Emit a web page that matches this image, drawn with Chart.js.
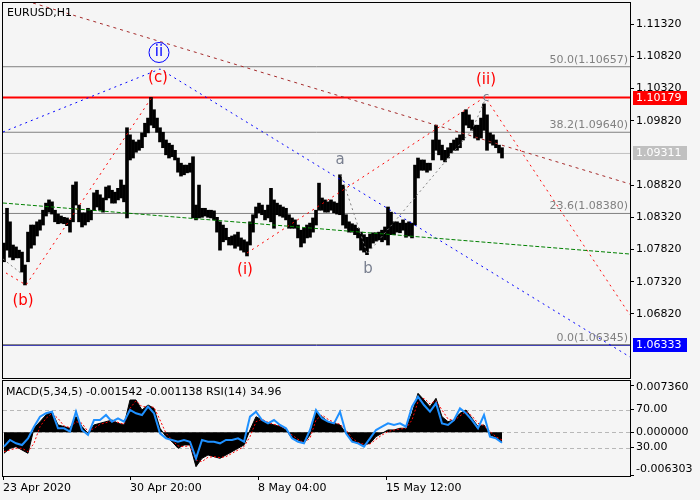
<!DOCTYPE html>
<html><head><meta charset="utf-8">
<script src="https://cdn.jsdelivr.net/npm/chart.js@4.4.0/dist/chart.umd.min.js"></script>
<style>
html,body{margin:0;padding:0;background:#f5f5f5;}
#wrap{position:relative;width:700px;height:500px;overflow:hidden;background:#f5f5f5;}
#main{position:absolute;left:0;top:0;}
#sub{position:absolute;left:0;top:379px;}
</style></head><body>
<div id="wrap"><canvas id="main" width="700" height="381"></canvas><canvas id="sub" width="700" height="121"></canvas></div>
<script>
// ---------- DATA ----------
const symbolName = 'EURUSD,H1';
// hourly time axis (1 unit = 1 H1 bar); price bars sampled every 3 bars
const BAR_FIRST = 1, BAR_STEP = 3;
const priceHigh = [
1.0792,1.0846,1.0825,1.0789,1.0786,1.0781,1.0778,1.0758,1.0809,1.0820,
1.0820,1.0825,1.0828,1.0843,1.0854,1.0859,1.0856,1.0843,1.0837,1.0834,
1.0832,1.0831,1.0828,1.0882,1.0887,1.0851,1.0839,1.0839,1.0846,1.0843,
1.0870,1.0874,1.0867,1.0862,1.0879,1.0881,1.0874,1.0871,1.0877,1.0890,
1.0882,1.0971,1.0960,1.0952,1.0949,1.0952,1.0963,1.0978,1.0986,1.1018,
1.0999,1.0986,1.0971,1.0964,1.0952,1.0947,1.0944,1.0936,1.0924,1.0916,
1.0913,1.0913,1.0916,1.0926,1.0851,1.0882,1.0846,1.0846,1.0843,1.0843,
1.0842,1.0832,1.0825,1.0820,1.0815,1.0801,1.0803,1.0805,1.0809,1.0800,
1.0797,1.0794,1.0825,1.0836,1.0848,1.0854,1.0851,1.0843,1.0851,1.0877,
1.0859,1.0854,1.0851,1.0848,1.0846,1.0836,1.0831,1.0828,1.0820,1.0812,
1.0815,1.0820,1.0823,1.0831,1.0843,1.0885,1.0862,1.0859,1.0856,1.0859,
1.0856,1.0854,1.0898,1.0882,1.0836,1.0825,1.0822,1.0820,1.0815,1.0809,
1.0805,1.0801,1.0806,1.0808,1.0808,1.0809,1.0812,1.0817,1.0848,1.0840,
1.0825,1.0825,1.0823,1.0828,1.0823,1.0825,1.0823,1.0913,1.0924,1.0921,
1.0921,1.0916,1.0916,1.0952,1.0975,1.0952,1.0944,1.0936,1.0940,1.0947,
1.0952,1.0955,1.0960,1.0995,1.0999,1.0991,1.0983,1.0975,1.0975,1.0986,
1.1008,1.0991,1.0963,1.0960,1.0952,1.0944,1.0940];
const priceLow = [
1.0763,1.0781,1.0770,1.0766,1.0769,1.0769,1.0747,1.0727,1.0763,1.0784,
1.0789,1.0803,1.0812,1.0820,1.0834,1.0840,1.0837,1.0825,1.0822,1.0823,
1.0822,1.0819,1.0809,1.0825,1.0851,1.0825,1.0817,1.0820,1.0825,1.0828,
1.0843,1.0848,1.0843,1.0840,1.0859,1.0862,1.0854,1.0854,1.0859,1.0862,
1.0856,1.0831,1.0921,1.0924,1.0933,1.0936,1.0940,1.0957,1.0963,1.0975,
1.0971,1.0964,1.0949,1.0940,1.0929,1.0924,1.0926,1.0921,1.0902,1.0896,
1.0898,1.0901,1.0902,1.0831,1.0828,1.0831,1.0832,1.0834,1.0832,1.0831,
1.0828,1.0809,1.0781,1.0794,1.0797,1.0789,1.0789,1.0784,1.0787,1.0781,
1.0778,1.0772,1.0789,1.0809,1.0831,1.0839,1.0836,1.0828,1.0831,1.0825,
1.0815,1.0836,1.0834,1.0832,1.0828,1.0815,1.0815,1.0815,1.0800,1.0786,
1.0792,1.0800,1.0801,1.0809,1.0820,1.0843,1.0843,1.0840,1.0840,1.0843,
1.0839,1.0837,1.0836,1.0820,1.0815,1.0809,1.0809,1.0805,1.0800,1.0781,
1.0778,1.0774,1.0784,1.0792,1.0795,1.0797,1.0794,1.0797,1.0789,1.0805,
1.0805,1.0809,1.0808,1.0812,1.0801,1.0803,1.0800,1.0820,1.0893,1.0905,
1.0905,1.0902,1.0905,1.0921,1.0936,1.0929,1.0921,1.0918,1.0924,1.0932,
1.0936,1.0936,1.0940,1.0952,1.0975,1.0971,1.0967,1.0955,1.0952,1.0955,
1.0967,1.0936,1.0947,1.0944,1.0940,1.0932,1.0924];

// indicator samples every 6 bars
const IND_FIRST = 1, IND_STEP = 6;
const macd = [
-0.00304,-0.00232,-0.00208,-0.00256,-0.00304,0.00056,0.00151,0.00247,0.00295,0.00104,
0.00080,0.00056,0.00223,0.00080,-0.00016,0.00104,0.00128,0.00151,0.00175,0.00128,
0.00104,0.00463,0.00463,0.00319,0.00391,0.00343,0.00056,-0.00064,-0.00136,-0.00232,
-0.00184,-0.00184,-0.00496,-0.00376,-0.00328,-0.00352,-0.00376,-0.00328,-0.00280,-0.00232,
-0.00184,0.00032,0.00223,0.00175,0.00128,0.00104,0.00080,0.00032,-0.00088,-0.00112,
-0.00160,-0.00040,0.00295,0.00223,0.00151,0.00128,0.00104,-0.00016,-0.00136,-0.00160,
-0.00184,-0.00160,-0.00064,-0.00016,0.00032,0.00032,0.00056,0.00056,0.00271,0.00559,
0.00463,0.00367,0.00487,0.00223,0.00151,0.00175,0.00271,0.00319,0.00199,0.00080,
0.00104,-0.00040,-0.00074,-0.001542];
const macdSignal = [
-0.00280,-0.00256,-0.00232,-0.00232,-0.00280,-0.00160,0.00080,0.00199,0.00271,0.00199,
0.00089,0.00065,0.00151,0.00128,0.00008,0.00056,0.00113,0.00137,0.00166,0.00142,
0.00113,0.00343,0.00453,0.00367,0.00367,0.00358,0.00175,-0.00016,-0.00112,-0.00198,
-0.00208,-0.00194,-0.00400,-0.00424,-0.00361,-0.00352,-0.00366,-0.00352,-0.00304,-0.00256,
-0.00208,-0.00064,0.00151,0.00185,0.00142,0.00113,0.00089,0.00046,-0.00040,-0.00103,
-0.00151,-0.00088,0.00175,0.00247,0.00185,0.00142,0.00113,0.00032,-0.00088,-0.00146,
-0.00174,-0.00170,-0.00103,-0.00040,0.00008,0.00032,0.00046,0.00056,0.00175,0.00439,
0.00487,0.00406,0.00453,0.00319,0.00190,0.00166,0.00233,0.00295,0.00233,0.00128,
0.00094,0.00008,-0.00064,-0.001138];
const rsi = [
30.9,37.9,34.4,32.6,39.6,51.9,62.5,66.0,67.7,50.2,
50.2,46.7,67.7,48.4,43.2,58.9,58.9,64.2,57.2,60.7,
57.2,69.5,66.0,64.2,73.0,66.0,44.9,39.6,37.9,36.1,
37.9,36.1,18.6,37.9,36.1,36.1,34.4,37.9,37.9,39.6,
36.1,62.5,67.7,58.9,55.4,58.9,53.7,50.2,39.6,36.1,
34.4,48.4,69.5,60.7,57.2,55.4,67.7,44.9,36.1,34.4,
30.9,39.6,48.4,51.9,55.4,53.7,55.4,51.9,73.0,83.5,
74.7,67.7,76.5,55.4,53.7,58.9,71.2,66.0,58.9,50.2,
64.2,41.4,39.6,34.96];

// axes
const X_MIN = 0, X_MAX = 627;
const Y_MIN = 1.05826, Y_MAX = 1.11646;
const priceTicks = [1.11320,1.10820,1.10320,1.09820,1.08820,1.08320,1.07820,1.07320,1.06820];
const timeTickHours = [0,127,255,383];
const timeTickLabels = ['23 Apr 2020','30 Apr 20:00','8 May 04:00','15 May 12:00'];
const MACD_MIN = -0.006303, MACD_MAX = 0.007360;
const rsiLevels = [30, 70];

// levels
const fibLevels = [1.10657, 1.09640, 1.08380, 1.06345];
const fibNames = ['50.0','38.2','23.6','0.0'];
const resistanceLevel = 1.10179;
const bidLevel = 1.09311;
const supportLevel = 1.06333;

// trend / wave lines [hour, price]
const trendBrown = [[30,1.11646],[627,1.08837]];
const trendBlue = [[0,1.09644],[157,1.10622],[627,1.06152]];
const waveRed1 = [[3,1.07456],[23,1.07269],[149,1.10187]];
const waveRed2 = [[244,1.07766],[482,1.10187],[627,1.06804]];
const waveGrayB = [[0,1.07673],[19,1.07440]];
const waveGrayAB = [[338,1.08977],[364,1.07766]];
const waveGrayBC = [[365,1.07766],[469,1.09675],[482,1.10141]];
const trendGreen = [[0,1.08542],[627,1.07750]];

// wave labels [text, hour, price]
const waveLabels = [
  ['(b)', 20, 1.07021, 'red'],
  ['(c)', 155, 1.10482, 'red'],
  ['ii', 156, 1.10878, 'blue'],
  ['(i)', 242, 1.07502, 'red'],
  ['a', 337, 1.09209, 'gray'],
  ['b', 365, 1.07518, 'gray'],
  ['(ii)', 483, 1.10451, 'red'],
  ['c', 483, 1.10172, 'graySmall']
];

// ---------- CHART ----------
const FONT = '"DejaVu Sans", sans-serif';

const bars = priceHigh.map((h,i)=>({x: BAR_FIRST + i*BAR_STEP, y: [priceLow[i], h]}));
function lineDS(pts, color, dash, width, order){
  return {type:'line', data: pts.map(p=>({x:p[0], y:p[1]})), borderColor: color, borderDash: dash,
    borderWidth: width||1, pointRadius: 0, fill: false, tension: 0, order: order};
}
function levelDS(v, color, width){ return lineDS([[X_MIN,v],[X_MAX,v]], color, [], width, 3); }

const mainDatasets = [
  {type:'bar', data: bars, backgroundColor:'#000', borderWidth:0, barThickness:3, order:1, grouped:false},
  ...fibLevels.map(v=>levelDS(v,'#808080',1)),
  levelDS(bidLevel,'#c0c0c0',1),
  levelDS(resistanceLevel,'#ff0000',2),
  levelDS(supportLevel,'#1818a8',1),
  lineDS(trendGreen,'#008000',[4,2],1,0),
  lineDS(trendBrown,'#a52a2a',[3,4],1,0),
  lineDS(trendBlue,'#0000ff',[2,4],1,0),
  lineDS(waveRed1,'#ff0000',[2,4],1,0),
  lineDS(waveRed2,'#ff0000',[2,4],1,0),
  lineDS(waveGrayB,'#808080',[2,3],1,0),
  lineDS(waveGrayAB,'#808080',[2,3],1,0),
  lineDS(waveGrayBC,'#808080',[2,3],1,0)
];

const mainOverlay = {
  id:'mainOverlay',
  afterDatasetsDraw(chart){
    const {ctx, chartArea:a, scales:{x,y}} = chart;
    ctx.save();
    ctx.beginPath(); ctx.rect(a.left,a.top,a.right-a.left,a.bottom-a.top); ctx.clip();
    ctx.font = '11px ' + FONT; ctx.fillStyle = '#808080'; ctx.textAlign = 'right'; ctx.textBaseline = 'bottom';
    fibLevels.forEach((lv,i)=>{
      ctx.fillText(fibNames[i] + '(' + lv.toFixed(5) + ')', a.right - 2, Math.round(y.getPixelForValue(lv)) - 1);
    });
    waveLabels.forEach(([t,h,p,kind])=>{
      const px = x.getPixelForValue(h), py = y.getPixelForValue(p);
      ctx.textAlign = 'center'; ctx.textBaseline = 'middle';
      if (kind === 'blue'){
        ctx.strokeStyle = '#0000ff'; ctx.lineWidth = 1;
        ctx.beginPath(); ctx.arc(px, py, 10, 0, Math.PI*2); ctx.stroke();
        ctx.fillStyle = '#0000ff'; ctx.font = '15px ' + FONT; ctx.fillText(t, px, py);
      } else if (kind === 'red'){
        ctx.fillStyle = '#ff0000'; ctx.font = '15px ' + FONT; ctx.fillText(t, px, py);
      } else if (kind === 'gray'){
        ctx.fillStyle = '#7a8090'; ctx.font = '15px ' + FONT; ctx.fillText(t, px, py);
      } else {
        ctx.fillStyle = '#7a8090'; ctx.font = '12px ' + FONT; ctx.fillText(t, px, py);
      }
    });
    ctx.fillStyle = '#000'; ctx.font = '11px ' + FONT; ctx.textAlign = 'left'; ctx.textBaseline = 'alphabetic';
    ctx.fillText(symbolName, a.left + 4, a.top + 13);
    ctx.restore();
  },
  afterDraw(chart){
    const {ctx, chartArea:a, scales:{y}} = chart;
    ctx.save();
    ctx.font = '11px ' + FONT; ctx.textAlign = 'left'; ctx.textBaseline = 'middle';
    [[resistanceLevel,'#ff0000'],[bidLevel,'#c0c0c0'],[supportLevel,'#0000ff']].forEach(([v,c])=>{
      const py = Math.round(y.getPixelForValue(v));
      ctx.fillStyle = c; ctx.fillRect(a.right + 3, py - 7, 54, 14);
      ctx.fillStyle = '#fff'; ctx.fillText(v.toFixed(5), a.right + 6, py + 0.5);
    });
    ctx.strokeStyle = '#000'; ctx.lineWidth = 1;
    ctx.strokeRect(a.left - 0.5, a.top - 0.5, a.right - a.left + 1, a.bottom - a.top + 1);
    ctx.restore();
  }
};

new Chart(document.getElementById('main'), {
  type:'bar',
  data:{datasets: mainDatasets},
  plugins:[mainOverlay],
  options:{
    responsive:false, animation:false, devicePixelRatio:1,
    layout:{padding:{left:3, top:3, right:0, bottom:3}},
    plugins:{legend:{display:false}, tooltip:{enabled:false}},
    scales:{
      x:{type:'linear', min:X_MIN, max:X_MAX, offset:false, display:false, grid:{offset:false}},
      y:{type:'linear', position:'right', min:Y_MIN, max:Y_MAX,
        afterFit(s){ s.width = 70; s.paddingTop = 0; s.paddingBottom = 0; },
        afterBuildTicks(s){ s.ticks = priceTicks.map(v=>({value:v})); },
        ticks:{callback:(v)=>Number(v).toFixed(5), color:'#000', font:{family:FONT, size:11}, padding:2, autoSkip:false},
        grid:{drawOnChartArea:false, drawTicks:true, tickLength:4, tickColor:'#000', color:'#000'},
        border:{display:false}}
    }
  }
});

// ---------- SUB PANEL ----------
const indX = i => IND_FIRST + i*IND_STEP;
const subOverlay = {
  id:'subOverlay',
  beforeDatasetsDraw(chart){
    const {ctx, chartArea:a, scales} = chart;
    const y = scales.y, rs = scales.yRsi;
    ctx.save();
    ctx.strokeStyle = '#b8b8b8'; ctx.lineWidth = 1; ctx.setLineDash([4,3]);
    [rs.getPixelForValue(rsiLevels[1]), y.getPixelForValue(0), rs.getPixelForValue(rsiLevels[0])].forEach(py=>{
      const yy = Math.round(py) + 0.5;
      ctx.beginPath(); ctx.moveTo(a.left, yy); ctx.lineTo(a.right, yy); ctx.stroke();
    });
    ctx.restore();
  },
  afterDraw(chart){
    const {ctx, chartArea:a} = chart;
    ctx.save();
    ctx.strokeStyle = '#000'; ctx.lineWidth = 1;
    ctx.strokeRect(a.left - 0.5, a.top - 0.5, a.right - a.left + 1, a.bottom - a.top + 1);
    ctx.beginPath();
    ctx.moveTo(a.right, a.top + 4.5); ctx.lineTo(a.right + 4, a.top + 4.5);
    ctx.moveTo(a.right, a.bottom - 0.5); ctx.lineTo(a.right + 4, a.bottom - 0.5);
    ctx.stroke();
    ctx.fillStyle = '#000'; ctx.font = '11px ' + FONT; ctx.textAlign = 'left'; ctx.textBaseline = 'middle';
    ctx.fillText(MACD_MAX.toFixed(6), a.right + 6, a.top + 6);
    ctx.fillText(MACD_MIN.toFixed(6), a.right + 6, a.bottom - 7);
    const title = 'MACD(5,34,5) ' + macd[macd.length-1].toFixed(6) + ' ' + macdSignal[macdSignal.length-1].toFixed(6) +
      ' RSI(14) ' + rsi[rsi.length-1].toFixed(2);
    ctx.fillText(title, a.left + 3, a.top + 11);
    ctx.restore();
  }
};

const subTickValues = [MACD_MIN + 0.3*(MACD_MAX-MACD_MIN), 0, MACD_MIN + 0.7*(MACD_MAX-MACD_MIN)];
const subTickLabels = [rsiLevels[0].toFixed(2), (0).toFixed(6), rsiLevels[1].toFixed(2)];

new Chart(document.getElementById('sub'), {
  type:'line',
  data:{datasets:[
    {data: macd.map((v,i)=>({x:indX(i), y:v})), borderColor:'#000', backgroundColor:'#000', fill:'origin',
      borderWidth:1, pointRadius:0, tension:0, yAxisID:'y', order:2},
    {data: macdSignal.map((v,i)=>({x:indX(i), y:v})), borderColor:'#ff0000', borderDash:[2,2], fill:false,
      borderWidth:1, pointRadius:0, tension:0, yAxisID:'y', order:1},
    {data: rsi.map((v,i)=>({x:indX(i), y:v})), borderColor:'#1e90ff', fill:false,
      borderWidth:2, pointRadius:0, tension:0, yAxisID:'yRsi', order:0}
  ]},
  plugins:[subOverlay],
  options:{
    responsive:false, animation:false, devicePixelRatio:1,
    layout:{padding:{left:3, top:2, right:0, bottom:0}},
    plugins:{legend:{display:false}, tooltip:{enabled:false}},
    scales:{
      x:{type:'linear', min:X_MIN, max:X_MAX, offset:false,
        afterFit(s){ s.height = 24; s.paddingLeft = 0; s.paddingRight = 0; },
        afterBuildTicks(s){ s.ticks = timeTickHours.map(v=>({value:v})); },
        ticks:{callback:(v,i)=>timeTickLabels[i], align:'start', maxRotation:0, autoSkip:false, padding:2,
          color:'#000', font:{family:FONT, size:11}},
        grid:{drawOnChartArea:false, drawTicks:true, tickLength:4, tickColor:'#000'},
        border:{display:false}},
      y:{type:'linear', position:'right', min:MACD_MIN, max:MACD_MAX,
        afterFit(s){ s.width = 70; s.paddingTop = 0; s.paddingBottom = 0; },
        afterBuildTicks(s){ s.ticks = subTickValues.map(v=>({value:v})); },
        ticks:{callback:(v,i)=>subTickLabels[i], color:'#000', font:{family:FONT, size:11}, padding:2, autoSkip:false},
        grid:{drawOnChartArea:false, drawTicks:true, tickLength:4, tickColor:'#000'},
        border:{display:false}},
      yRsi:{type:'linear', axis:'y', position:'right', display:false, min:0, max:100}
    }
  }
});
</script>
</body></html>
